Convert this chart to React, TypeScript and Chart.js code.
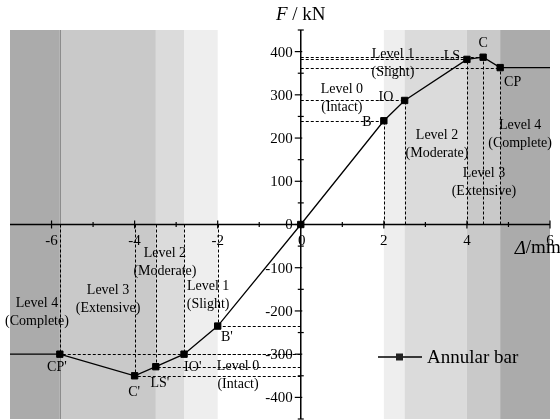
import { useEffect, useRef } from 'react';
import { Chart, registerables } from 'chart.js';

Chart.register(...registerables);

// ---- data ----
const pointNames = ["CP'", "C'", "LS'", "IO'", "B'", "", "B", "IO", "LS", "C", "CP"];
const dispX = [-5.8, -4.0, -3.49, -2.81, -2.0, 0, 2.0, 2.5, 4.0, 4.39, 4.8];
const forceY = [-300, -350, -329, -300, -235, 0, 240, 287, 382, 387, 363];
const tailX = [-7, 6];
const tailY = [-300, 363];

const xMin = -7;
const xMax = 6;
const yMin = -450;
const yMax = 450;

const xTickLabels = [-6, -4, -2, 0, 2, 4, 6];
const yTickLabels = [-400, -300, -200, -100, 0, 100, 200, 300, 400];

// damage bands: inner -> outer
const bandColors = ['#eeeeee', '#dbdbdb', '#c9c9c9', '#ababab'];
const bandEdgesPos = [2.0, 2.5, 4.0, 4.8, 6];
const bandEdgesNeg = [-2.0, -2.81, -3.49, -5.8, -7];

const levelNames = ['Level 0', 'Level 1', 'Level 2', 'Level 3', 'Level 4'];
const levelStates = ['(Intact)', '(Slight)', '(Moderate)', '(Extensive)', '(Complete)'];
const levelPosX = [0.99, 2.22, 3.28, 4.41, 5.28];
const levelPosY = [293, 374, 186, 98, 208];
const levelNegX = [-1.51, -2.23, -3.27, -4.64, -6.35];
const levelNegY = [-350, -164, -87, -172, -204];

// point name label anchors
const nameLabelX = [-5.87, -4.01, -3.39, -2.6, -1.78, 0, 1.59, 2.05, 3.64, 4.39, 5.1];
const nameLabelY = [-330, -388, -367, -330, -260, 0, 237, 295, 388, 420, 330];

const seriesName = 'Annular bar';

const SERIF = '"Liberation Serif", "Times New Roman", serif';

const lineData = [
  { x: tailX[0], y: tailY[0] },
  ...dispX.map((x, i) => ({ x, y: forceY[i] })),
  { x: tailX[1], y: tailY[1] },
];

const bgPlugin = {
  id: 'bgPlugin',
  beforeDatasetsDraw(chart: any) {
    const { ctx, chartArea, scales } = chart;
    const xs = scales.x;
    const ys = scales.y;
    const x0 = xs.getPixelForValue(0);
    const y0 = ys.getPixelForValue(0);
    ctx.save();
    // bands
    const drawBands = (edges: number[]) => {
      for (let i = 0; i < edges.length - 1; i++) {
        const a = xs.getPixelForValue(edges[i]);
        const b = xs.getPixelForValue(edges[i + 1]);
        ctx.fillStyle = bandColors[i];
        ctx.fillRect(Math.min(a, b), chartArea.top, Math.abs(b - a), chartArea.bottom - chartArea.top);
      }
    };
    drawBands(bandEdgesPos);
    drawBands(bandEdgesNeg);
    // band edge line at outermost negative band
    ctx.strokeStyle = '#8c8c8c';
    ctx.lineWidth = 1;
    const e = Math.round(xs.getPixelForValue(bandEdgesNeg[3])) + 0.5;
    ctx.beginPath();
    ctx.moveTo(e, chartArea.top);
    ctx.lineTo(e, chartArea.bottom);
    ctx.stroke();

    // dotted reference lines
    ctx.strokeStyle = '#000';
    ctx.lineWidth = 1;
    ctx.setLineDash([3, 2]);
    dispX.forEach((x, i) => {
      if (x === 0) return;
      const px = Math.round(xs.getPixelForValue(x)) + 0.5;
      const py = Math.round(ys.getPixelForValue(forceY[i])) + 0.5;
      ctx.beginPath();
      ctx.moveTo(x0, py);
      ctx.lineTo(px, py);
      ctx.stroke();
      ctx.beginPath();
      ctx.moveTo(px, y0);
      ctx.lineTo(px, py);
      ctx.stroke();
    });
    ctx.setLineDash([]);

    // axes
    ctx.strokeStyle = '#000';
    ctx.lineWidth = 1.5;
    ctx.beginPath();
    ctx.moveTo(chartArea.left, y0);
    ctx.lineTo(chartArea.right, y0);
    ctx.moveTo(x0, chartArea.top);
    ctx.lineTo(x0, chartArea.bottom);
    ctx.stroke();
    ctx.lineWidth = 1.2;
    for (let v = xMin + 1; v <= xMax; v++) {
      const px = xs.getPixelForValue(v);
      const major = v % 2 === 0;
      const h = major ? 4 : 2.5;
      ctx.beginPath();
      ctx.moveTo(px, y0 - h);
      ctx.lineTo(px, y0 + h);
      ctx.stroke();
    }
    for (let v = yMin; v <= yMax; v += 50) {
      const py = ys.getPixelForValue(v);
      const major = v % 100 === 0;
      ctx.beginPath();
      if (major) {
        ctx.moveTo(x0 - 6, py);
        ctx.lineTo(x0 + 1.5, py);
      } else {
        ctx.moveTo(x0 - 3, py);
        ctx.lineTo(x0 + 3, py);
      }
      ctx.stroke();
    }
    ctx.restore();
  },
  afterDatasetsDraw(chart: any) {
    const { ctx, chartArea, scales } = chart;
    const xs = scales.x;
    const ys = scales.y;
    const x0 = xs.getPixelForValue(0);
    const y0 = ys.getPixelForValue(0);
    ctx.save();
    ctx.fillStyle = '#000';
    // tick labels
    ctx.font = `15px ${SERIF}`;
    ctx.textAlign = 'center';
    ctx.textBaseline = 'middle';
    xTickLabels.forEach((v) => {
      ctx.fillText(String(v), xs.getPixelForValue(v) + (v === 0 ? 1 : 0), y0 + 17);
    });
    ctx.textAlign = 'right';
    yTickLabels.forEach((v) => {
      ctx.fillText(String(v), x0 - 8, ys.getPixelForValue(v) + 1);
    });

    // level labels
    ctx.font = `14px ${SERIF}`;
    ctx.textAlign = 'center';
    const drawLevel = (xv: number, yv: number, i: number) => {
      const px = xs.getPixelForValue(xv);
      const py = ys.getPixelForValue(yv);
      ctx.fillText(levelNames[i], px, py - 9);
      ctx.fillText(levelStates[i], px, py + 9);
    };
    levelNames.forEach((_, i) => {
      drawLevel(levelPosX[i], levelPosY[i], i);
      drawLevel(levelNegX[i], levelNegY[i], i);
    });
    // point names
    pointNames.forEach((n, i) => {
      if (!n) return;
      ctx.fillText(n, xs.getPixelForValue(nameLabelX[i]), ys.getPixelForValue(nameLabelY[i]));
    });

    // axis titles
    ctx.textAlign = 'left';
    const italic = `italic 19px ${SERIF}`;
    const normal = `19px ${SERIF}`;
    ctx.font = italic;
    const wF = ctx.measureText('F').width;
    ctx.font = normal;
    const wRest = ctx.measureText(' / kN').width;
    const tx = x0 - (wF + wRest) / 2;
    const ty = chartArea.top - 15;
    ctx.font = italic;
    ctx.fillText('F', tx, ty);
    ctx.font = normal;
    ctx.fillText(' / kN', tx + wF, ty);

    const dx = xs.getPixelForValue(5.15);
    const dy = y0 + 24;
    ctx.font = italic;
    ctx.fillText('\u0394', dx, dy);
    const wD = ctx.measureText('\u0394').width;
    ctx.font = normal;
    ctx.fillText('/mm', dx + wD, dy);

    // legend
    const lx = chartArea.left + 368;
    const ly = chartArea.top + 327;
    ctx.strokeStyle = '#000';
    ctx.lineWidth = 1.3;
    ctx.beginPath();
    ctx.moveTo(lx, ly);
    ctx.lineTo(lx + 44, ly);
    ctx.stroke();
    ctx.fillStyle = '#222';
    ctx.fillRect(lx + 18, ly - 3.5, 7, 7);
    ctx.fillStyle = '#000';
    ctx.font = `19px ${SERIF}`;
    ctx.fillText(seriesName, lx + 49, ly + 1);
    ctx.restore();
  },
};

export default function App() {
  const ref = useRef<HTMLCanvasElement | null>(null);
  useEffect(() => {
    document.body.style.margin = '0';
    const canvas = ref.current;
    if (!canvas) return;
    const chart = new Chart(canvas, {
      type: 'line',
      data: {
        datasets: [
          {
            label: seriesName,
            data: lineData,
            borderColor: '#000',
            borderWidth: 1.3,
            backgroundColor: '#000',
            pointStyle: 'rect',
            pointRadius: (c: any) => (c.dataIndex === 0 || c.dataIndex === lineData.length - 1 ? 0 : 4.5),
            pointBorderWidth: 1,
            pointBorderColor: '#000',
            pointBackgroundColor: '#000',
            tension: 0,
          },
        ],
      },
      options: {
        responsive: false,
        animation: false,
        devicePixelRatio: 1,
        layout: { padding: { left: 10, right: 10, top: 30, bottom: 1 } },
        scales: {
          x: { type: 'linear', min: xMin, max: xMax, display: false },
          y: { type: 'linear', min: yMin, max: yMax, display: false },
        },
        plugins: {
          legend: { display: false },
          tooltip: { enabled: false },
        },
      },
      plugins: [bgPlugin],
    } as any);
    return () => chart.destroy();
  }, []);
  return <canvas ref={ref} width={560} height={420} style={{ display: 'block' }} />;
}
